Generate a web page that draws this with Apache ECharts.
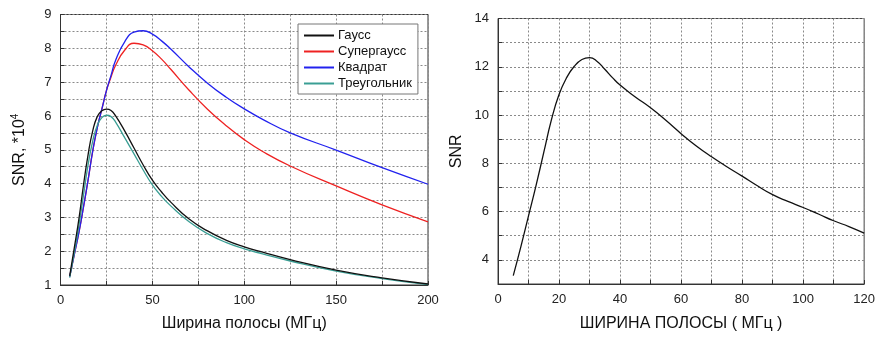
<!DOCTYPE html>
<html><head><meta charset="utf-8">
<script src="https://cdn.jsdelivr.net/npm/echarts@6/dist/echarts.min.js"></script>
<style>html,body{margin:0;padding:0;background:#fff}#c{width:878px;height:337px}</style>
</head><body><div id="c"></div>
<script>
// Left chart data
const bandL = [5, 7.5, 10, 12.5, 15, 17.5, 20, 22.5, 25, 27.5, 30, 35, 40, 45, 50, 55, 60, 70, 80, 90, 100, 110, 125, 150, 175, 200];
const gauss = [1.27, 2.1, 2.95, 3.95, 4.85, 5.55, 5.98, 6.15, 6.2, 6.16, 6.0, 5.55, 5.05, 4.55, 4.1, 3.75, 3.45, 2.95, 2.6, 2.33, 2.13, 1.97, 1.75, 1.44, 1.21, 1.03];
const supergauss = [1.25, 1.9, 2.55, 3.3, 4.1, 4.95, 5.65, 6.2, 6.75, 7.15, 7.5, 7.95, 8.15, 8.1, 7.93, 7.68, 7.38, 6.76, 6.2, 5.72, 5.3, 4.95, 4.52, 3.93, 3.37, 2.87];
const kvadrat = [1.25, 1.9, 2.55, 3.3, 4.1, 4.95, 5.65, 6.2, 6.75, 7.2, 7.65, 8.2, 8.48, 8.52, 8.42, 8.22, 7.98, 7.45, 6.97, 6.56, 6.21, 5.9, 5.5, 4.99, 4.47, 3.98];
const treug = [1.22, 1.95, 2.75, 3.65, 4.55, 5.25, 5.72, 5.95, 6.02, 5.98, 5.82, 5.35, 4.88, 4.4, 3.96, 3.62, 3.34, 2.87, 2.52, 2.26, 2.07, 1.92, 1.71, 1.41, 1.19, 1.01];
const seriesNames = ['Гаусс', 'Супергаусс', 'Квадрат', 'Треугольник'];
// Right chart data
const bandR = [5, 7.5, 10, 12.5, 15, 17.5, 20, 22.5, 25, 27.5, 30, 32.5, 35, 37.5, 40, 45, 50, 55, 60, 65, 70, 75, 80, 85, 90, 95, 100, 105, 110, 115, 120];
const snrR = [3.35, 4.55, 5.82, 7.1, 8.45, 9.8, 10.85, 11.55, 12.02, 12.3, 12.38, 12.22, 11.9, 11.55, 11.24, 10.75, 10.3, 9.78, 9.23, 8.72, 8.27, 7.86, 7.47, 7.07, 6.7, 6.42, 6.17, 5.9, 5.62, 5.38, 5.11];

const pair = (xs, ys) => xs.map((x, i) => [x, ys[i]]);
const font = 'Liberation Sans, Arial, sans-serif';
const gridLine = { show: true, lineStyle: { type: [2, 2], color: '#8a8a8a', width: 1 } };
const axLine = { show: true, lineStyle: { color: '#333', width: 1 } };
const tick = { show: true, inside: true, length: 4, lineStyle: { color: '#333' } };
const lbl = (f) => ({ fontFamily: font, fontSize: 13, color: '#222', margin: 9, formatter: f });

const chart = echarts.init(document.getElementById('c'), null, { renderer: 'canvas' });
const mk = (name, data, color, z) => ({
  name, type: 'line', xAxisIndex: 0, yAxisIndex: 0, data, smooth: 0.5,
  showSymbol: false, symbol: 'none', z, lineStyle: { color, width: 1.3 }, itemStyle: { color }
});
chart.setOption({
  animation: false,
  grid: [
    { left: 60.5, right: 450, top: 14.5, bottom: 51.5, show: true, borderColor: '#333', borderWidth: 1 },
    { left: 498, right: 12.5, top: 18.5, bottom: 48.5, show: true, borderColor: '#444', borderWidth: 1 }
  ],
  legend: {
    data: seriesNames, orient: 'vertical', left: 298, top: 24, itemWidth: 30, itemHeight: 2, icon: 'rect',
    itemGap: 3, padding: [5, 6, 4, 6], borderColor: '#777', borderWidth: 1, backgroundColor: '#fff',
    textStyle: { fontFamily: font, fontSize: 13, color: '#111', padding: [0, 0, 0, -1] }
  },
  xAxis: [
    { gridIndex: 0, type: 'value', min: 0, max: 200, interval: 25,
      name: 'Ширина полосы (МГц)', nameLocation: 'middle', nameGap: 31,
      nameTextStyle: { fontFamily: font, fontSize: 16, color: '#111' },
      axisLine: axLine, axisTick: tick, splitLine: gridLine,
      axisLabel: lbl(v => v % 50 === 0 ? v : '') },
    { gridIndex: 1, type: 'value', min: 0, max: 120, interval: 10,
      name: 'ШИРИНА ПОЛОСЫ ( МГц )', nameLocation: 'middle', nameGap: 32,
      nameTextStyle: { fontFamily: font, fontSize: 16, color: '#111' },
      axisLine: axLine, axisTick: tick, splitLine: gridLine,
      axisLabel: lbl(v => v % 20 === 0 ? v : '') }
  ],
  yAxis: [
    { gridIndex: 0, type: 'value', min: 1, max: 9, interval: 0.5,
      name: 'SNR, *10{s|4}', nameLocation: 'middle', nameGap: 32,
      nameTextStyle: { fontFamily: font, fontSize: 16, color: '#111',
        rich: { s: { fontFamily: font, fontSize: 10, color: '#111', verticalAlign: 'top', padding: [0, 0, 8, 0] } } },
      axisLine: axLine, axisTick: tick, splitLine: gridLine,
      axisLabel: lbl(v => Number.isInteger(v) ? v : '') },
    { gridIndex: 1, type: 'value', min: 3, max: 14, interval: 1,
      name: 'SNR', nameLocation: 'middle', nameGap: 33,
      nameTextStyle: { fontFamily: font, fontSize: 16, color: '#111' },
      axisLine: axLine, axisTick: tick, splitLine: gridLine,
      axisLabel: lbl(v => (v % 2 === 0) ? v : '') }
  ],
  series: [
    mk(seriesNames[1], pair(bandL, supergauss), '#ee2222', 2),
    mk(seriesNames[2], pair(bandL, kvadrat), '#2222ee', 3),
    mk(seriesNames[3], pair(bandL, treug), '#3a9e94', 4),
    mk(seriesNames[0], pair(bandL, gauss), '#111111', 5),
    { name: 'SNR', type: 'line', xAxisIndex: 1, yAxisIndex: 1, data: pair(bandR, snrR), smooth: 0.5,
      showSymbol: false, symbol: 'none', lineStyle: { color: '#111', width: 1.3 } }
  ]
});
</script></body></html>
